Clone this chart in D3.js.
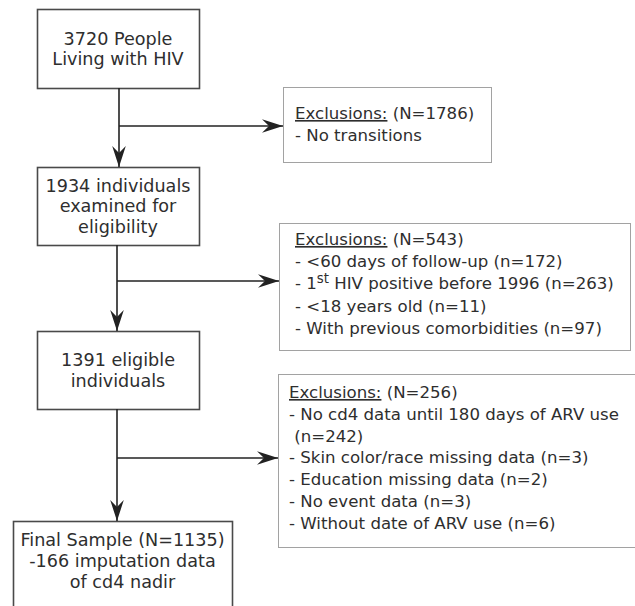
<!DOCTYPE html>
<html>
<head>
<meta charset="utf-8">
<style>
  body { margin: 0; background: #fff; }
  text { font-family: "DejaVu Sans", Verdana, sans-serif; fill: #2e2e2e; }
</style>
</head>
<body></body>
<script src="https://d3js.org/d3.v7.min.js"></script>
<script>

// flow stages (main column)
var stageLabels = [
  ["3720 People", "Living with HIV"],
  ["1934 individuals", "examined for", "eligibility"],
  ["1391 eligible", "individuals"],
  ["Final Sample (N=1135)", "-166 imputation data", "of cd4 nadir"]
];

// exclusions between stages
var exclusionN = [1786, 543, 256];
var exclusionLines = [
  ["- No transitions"],
  ["- <60 days of follow-up (n=172)",
   "- 1|st| HIV positive before 1996 (n=263)",
   "- <18 years old (n=11)",
   "- With previous comorbidities (n=97)"],
  ["- No cd4 data until 180 days of ARV use",
   " (n=242)",
   "- Skin color/race missing data (n=3)",
   "- Education missing data (n=2)",
   "- No event data (n=3)",
   "- Without date of ARV use (n=6)"]
];

var width = 635, height = 606;

var svg = d3.select("body").append("svg")
    .attr("width", width)
    .attr("height", height);

var defs = svg.append("defs");
defs.append("marker")
    .attr("id", "head")
    .attr("viewBox", "-22 -8 24 16")
    .attr("refX", 0).attr("refY", 0)
    .attr("markerWidth", 24).attr("markerHeight", 16)
    .attr("markerUnits", "userSpaceOnUse")
    .attr("orient", "auto")
  .append("path")
    .attr("d", "M0,0 L-21,-6.8 L-14,0 L-21,6.8 Z")
    .attr("fill", "#222");

// layout of the main boxes
var boxes = [
  {x: 37, y: 9,   w: 162, h: 79},
  {x: 37, y: 167, w: 162, h: 78},
  {x: 37, y: 331, w: 162, h: 78},
  {x: 13, y: 521, w: 219, h: 120}
];
var exBoxes = [
  {x: 283, y: 87,  w: 208, h: 75,  tx: 295, ty: 113, lh: 22},
  {x: 279, y: 223, w: 351, h: 127, tx: 295, ty: 239, lh: 22.2},
  {x: 278, y: 374, w: 400, h: 173, tx: 289, ty: 392, lh: 21.8}
];
var branchY = [126, 281, 458];
var stemX = [119, 117, 117];
var lineH = 20.6;

var fsMain = 17.6, fsEx = 16.6;

var main = svg.append("g").selectAll("g")
  .data(stageLabels)
  .join("g");

main.append("rect")
    .attr("x", (d, i) => boxes[i].x + 0.5)
    .attr("y", (d, i) => boxes[i].y + 0.5)
    .attr("width", (d, i) => boxes[i].w)
    .attr("height", (d, i) => boxes[i].h)
    .attr("fill", "none")
    .attr("stroke", "#4a4a4a")
    .attr("stroke-width", 1.6);

main.each(function(lines, i) {
  var b = boxes[i];
  var top = i == 3 ? b.y + 19 : b.y + b.h / 2 - (lines.length - 1) * lineH / 2;
  d3.select(this).selectAll("text")
    .data(lines)
    .join("text")
      .attr("x", b.x + b.w / 2)
      .attr("y", (d, k) => top + k * lineH)
      .attr("dy", "0.36em")
      .attr("text-anchor", "middle")
      .attr("font-size", fsMain)
      .text(d => d);
});

// connectors
for (var i = 0; i < 3; i++) {
  var from = boxes[i], to = boxes[i + 1];
  svg.append("line")
      .attr("x1", stemX[i]).attr("x2", stemX[i])
      .attr("y1", from.y + from.h).attr("y2", to.y)
      .attr("stroke", "#222").attr("stroke-width", 1.6)
      .attr("marker-end", "url(#head)");
  svg.append("line")
      .attr("x1", stemX[i]).attr("x2", exBoxes[i].x)
      .attr("y1", branchY[i]).attr("y2", branchY[i])
      .attr("stroke", "#222").attr("stroke-width", 1.6)
      .attr("marker-end", "url(#head)");
}

// exclusion boxes
var ex = svg.append("g").selectAll("g")
  .data(exclusionN)
  .join("g");

ex.append("rect")
    .attr("x", (d, i) => exBoxes[i].x + 0.5)
    .attr("y", (d, i) => exBoxes[i].y + 0.5)
    .attr("width", (d, i) => exBoxes[i].w)
    .attr("height", (d, i) => exBoxes[i].h)
    .attr("fill", "#fff")
    .attr("stroke", "#444")
    .attr("stroke-width", 1)
    .attr("stroke-dasharray", "1,1");

ex.each(function(n, i) {
  var b = exBoxes[i];
  var g = d3.select(this);
  var head = g.append("text")
      .attr("x", b.tx).attr("y", b.ty).attr("dy", "0.36em")
      .attr("font-size", fsEx);
  head.append("tspan").attr("text-decoration", "underline").text("Exclusions:");
  head.append("tspan").text(" (N=" + n + ")");

  exclusionLines[i].forEach(function(line, k) {
    var t = g.append("text")
        .attr("x", b.tx).attr("y", b.ty + (k + 1) * b.lh).attr("dy", "0.36em")
        .attr("font-size", fsEx)
        .attr("xml:space", "preserve")
        .style("white-space", "pre");
    var parts = line.split("|");
    if (parts.length == 3) {
      t.append("tspan").text(parts[0]);
      t.append("tspan").attr("font-size", fsEx * 0.8).attr("dy", "-0.5em").text(parts[1]);
      t.append("tspan").attr("dy", "0.4em").text(parts[2]);
    } else {
      t.text(line);
    }
  });
});

</script>
</html>
